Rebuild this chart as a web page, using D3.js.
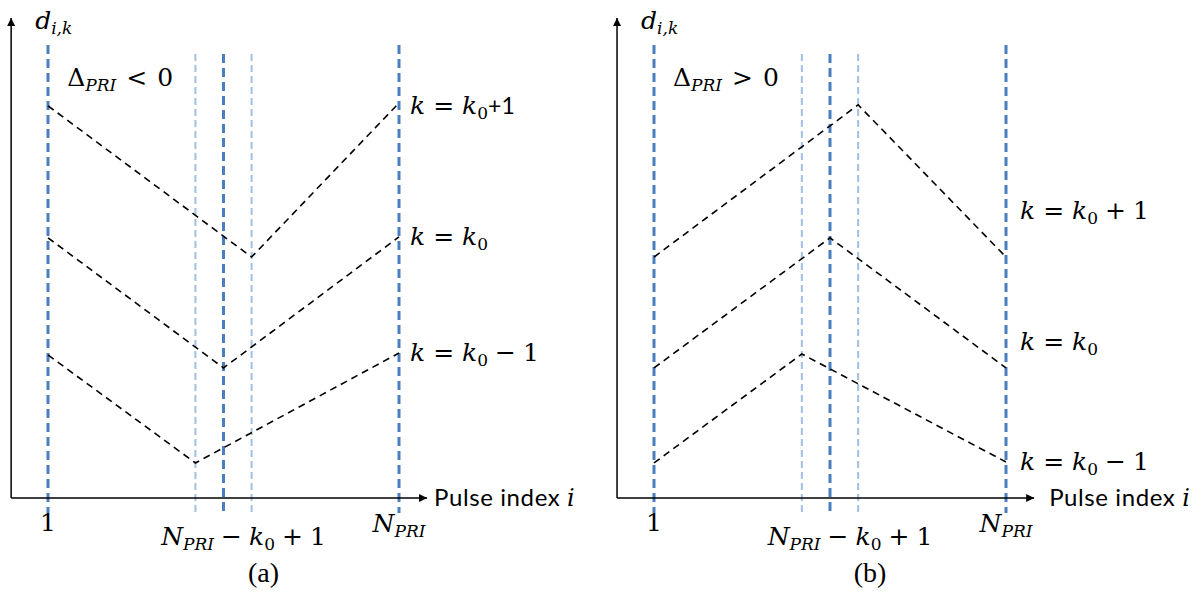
<!DOCTYPE html>
<html>
<head>
<meta charset="utf-8">
<script src="https://cdn.jsdelivr.net/npm/d3@7"></script>
<style>
  html, body { margin: 0; padding: 0; background: #fff; }
  svg { display: block; }
</style>
</head>
<body>
<svg id="chart" width="1200" height="595"></svg>
<script>
// ---------------- data ----------------
// normalized pulse-index positions (0 = pulse 1, 1 = N_PRI)
const guideX     = [0, 0.42, 0.5, 0.58, 1];
const guideKind  = ["outer", "light", "center", "light", "outer"];
const seriesNames = ["k = k0+1", "k = k0", "k = k0 - 1"];
// panel (a): Δ_PRI < 0
const aX = [[0, 0.58, 1], [0, 0.5, 1], [0, 0.42, 1]];
const aY = [[81.7, 50.2, 82.3], [54.2, 27.1, 54.4], [29.8, 7.3, 30.2]];
// panel (b): Δ_PRI > 0
const bX = [[0, 0.58, 1], [0, 0.5, 1], [0, 0.42, 1]];
const bY = [[50.2, 81.9, 50.2], [27.1, 54.2, 27.1], [7.3, 30.0, 7.5]];
// x-axis tick labels
const tickLabels = ["1", "N_PRI - k0 + 1", "N_PRI"];

// ---------------- drawing ----------------
const svg = d3.select("#chart");
const defs = svg.append("defs");
defs.append("marker").attr("id", "arrow")
  .attr("viewBox", "0 0 10 10").attr("refX", 10).attr("refY", 5)
  .attr("markerWidth", 10).attr("markerHeight", 8)
  .attr("markerUnits", "userSpaceOnUse")
  .attr("orient", "auto")
  .append("path").attr("d", "M0,0 L10,5 L0,10 Z").attr("fill", "#000");

const MATH = "'DejaVu Serif', serif";
const SANS = "Lato, 'Open Sans', sans-serif";
const SIZE = 25, SUB = 17, SHIFT = 5;

function math(g, x, y, parts, anchor) {
  const t = g.append("text").attr("x", x).attr("y", y)
    .attr("text-anchor", anchor || "start")
    .style("font-family", MATH).style("font-size", SIZE + "px").attr("fill", "#000");
  let inSub = false;
  parts.forEach(p => {
    const ts = t.append("tspan").text(p.t);
    if (p.i) ts.style("font-style", "italic");
    let dy = 0;
    if (p.s && !inSub) dy = SHIFT;
    else if (!p.s && inSub) dy = -SHIFT;
    inSub = !!p.s;
    if (dy) ts.attr("dy", dy);
    if (p.dx) ts.attr("dx", p.dx);
    if (p.s) ts.style("font-size", SUB + "px");
    if (p.f) ts.style("font-family", p.f).style("font-size", p.fs + "px");
  });
  return t;
}

const NPRI = [{t: "N", i: true}, {t: "PRI", i: true, s: true}];
const labelParts = {
  "k = k0+1": [{t: "k", i: true}, {t: "=", dx: 8}, {t: "k", i: true, dx: 8}, {t: "0", s: true},
               {t: "+1", f: SANS, fs: 23}],
  "k = k0 + 1": [{t: "k", i: true}, {t: "=", dx: 8}, {t: "k", i: true, dx: 8}, {t: "0", s: true},
               {t: "+", dx: 7}, {t: "1", dx: 7}],
  "k = k0": [{t: "k", i: true}, {t: "=", dx: 8}, {t: "k", i: true, dx: 8}, {t: "0", s: true}],
  "k = k0 - 1": [{t: "k", i: true}, {t: "=", dx: 8}, {t: "k", i: true, dx: 8}, {t: "0", s: true},
               {t: "\u2212", dx: 7}, {t: "1", dx: 7}],
  "N_PRI - k0 + 1": NPRI.concat([{t: "\u2212", dx: 7}, {t: "k", i: true, dx: 7}, {t: "0", s: true},
               {t: "+", dx: 7}, {t: "1", dx: 7}]),
  "N_PRI": NPRI,
  "1": [{t: "1"}]
};

function panel(cfg) {
  const g = svg.append("g");
  const x = d3.scaleLinear().domain([0, 1]).range(cfg.xr);
  const y = d3.scaleLinear().domain([0, 100]).range([498, 18]);
  const x0 = x(-0.105), xEnd = x(1.08);

  // guide lines
  const guideTop = {outer: 94.4, light: 92.5, center: 92.5};
  const guideStyle = {
    outer:  {c: "#4a7ebf", w: 3, d: "9,5"},
    center: {c: "#4a7ebf", w: 3, d: "9,5"},
    light:  {c: "#a3bfe3", w: 2, d: "7,4"}
  };
  g.selectAll("line.guide").data(guideX.map((v, i) => ({v, k: guideKind[i]})))
    .join("line").attr("class", "guide")
    .attr("x1", d => x(d.v)).attr("x2", d => x(d.v))
    .attr("y1", d => y(guideTop[d.k])).attr("y2", y(-3.1))
    .attr("stroke", d => guideStyle[d.k].c)
    .attr("stroke-width", d => guideStyle[d.k].w)
    .attr("stroke-dasharray", d => guideStyle[d.k].d);

  // axes
  g.append("line").attr("x1", x0).attr("y1", y(0)).attr("x2", x0).attr("y2", y(100))
    .attr("stroke", "#000").attr("stroke-width", 1.5).attr("marker-end", "url(#arrow)");
  g.append("line").attr("x1", x0).attr("y1", y(0)).attr("x2", xEnd).attr("y2", y(0))
    .attr("stroke", "#000").attr("stroke-width", 1.5).attr("marker-end", "url(#arrow)");

  // series
  const line = d3.line().x(d => x(d[0])).y(d => y(d[1]));
  g.selectAll("path.series").data(cfg.X.map((xs, i) => xs.map((v, j) => [v, cfg.Y[i][j]])))
    .join("path").attr("class", "series")
    .attr("d", line).attr("fill", "none")
    .attr("stroke", "#000").attr("stroke-width", 1.6).attr("stroke-dasharray", "7,5");

  // series labels
  cfg.labels.forEach((name, i) => math(g, cfg.labelX, cfg.labelY[i], labelParts[name]));

  // axis titles
  math(g, x0 + 24, 29, [{t: "d", i: true}, {t: "i,k", i: true, s: true}]);
  const xt = g.append("text").attr("x", xEnd + cfg.titleGap).attr("y", 506)
    .style("font-family", SANS).style("font-size", "24px").style("letter-spacing", "0.6px");
  xt.append("tspan").text("Pulse index ");
  xt.append("tspan").text("i").style("font-family", MATH).style("font-style", "italic")
    .style("letter-spacing", "0px");

  math(g, x0 + 56, 86, [{t: "\u0394"}, {t: "PRI", i: true, s: true},
    {t: cfg.sign, dx: 10}, {t: "0", dx: 10}]);

  // tick labels
  math(g, x(0), 531, labelParts[tickLabels[0]], "middle");
  math(g, x(0.5) + 20, 545, labelParts[tickLabels[1]], "middle");
  math(g, x(1), 532, labelParts[tickLabels[2]], "middle");

  // caption
  g.append("text").attr("x", x(0.5) + 40).attr("y", 582).attr("text-anchor", "middle")
    .style("font-family", "'Liberation Serif', serif").style("font-size", "28px").text(cfg.caption);
}

panel({xr: [48, 399], X: aX, Y: aY, sign: "<", caption: "(a)", titleGap: 7,
  labels: seriesNames, labelX: 410, labelY: [114, 245, 361]});
panel({xr: [654, 1006], X: bX, Y: bY, sign: ">", caption: "(b)", titleGap: 15,
  labels: ["k = k0 + 1", "k = k0", "k = k0 - 1"], labelX: 1020, labelY: [219, 350, 470]});
</script>
</body>
</html>
